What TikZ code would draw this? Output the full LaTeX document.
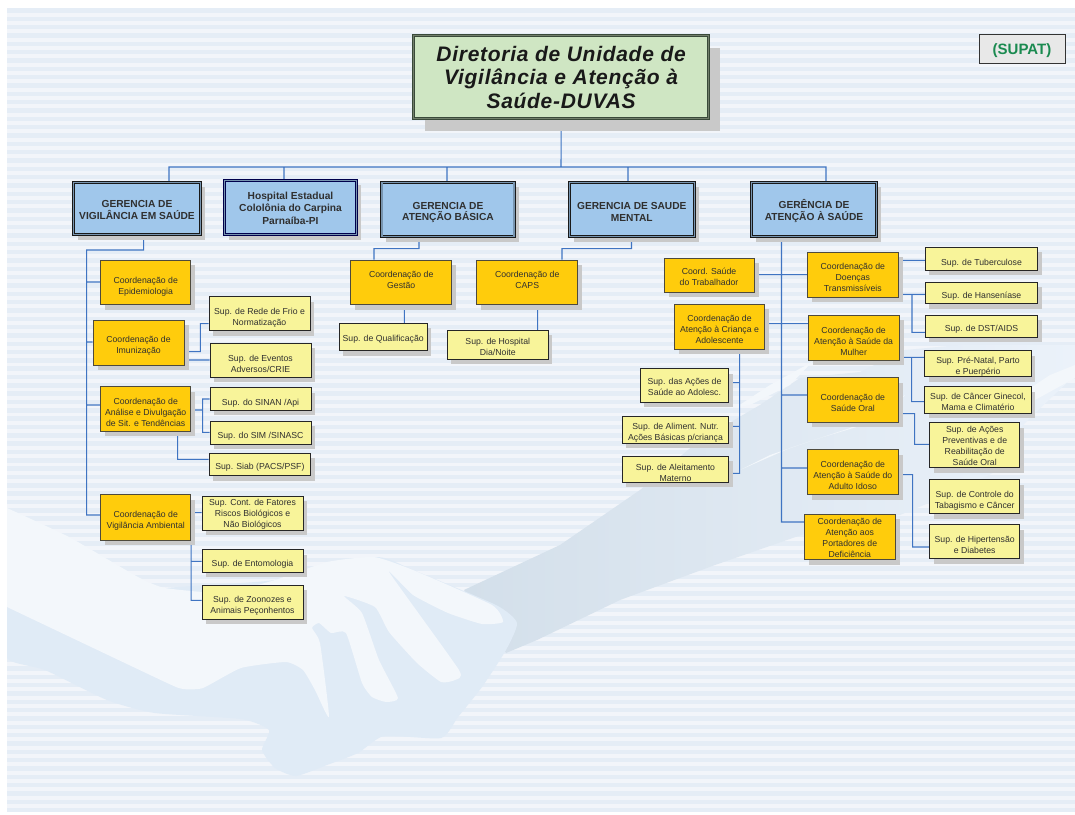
\documentclass[tikz,border=0pt]{standalone}
\usepackage{fontspec}
\setmainfont{Liberation Sans}
\usetikzlibrary{shadows,backgrounds}
\definecolor{bandA}{HTML}{F2F5FA}
\definecolor{bandB}{HTML}{E5EDF6}
\definecolor{handBlue}{HTML}{E0EBF6}
\definecolor{handPale}{HTML}{F3F7FB}
\definecolor{sleeveDark}{HTML}{D3DFEA}
\definecolor{sleeveMid}{HTML}{E2EBF5}
\definecolor{sleeveLight}{HTML}{EBF2FA}
\definecolor{linkBlue}{HTML}{3F74C2}
\definecolor{shadowGrey}{HTML}{C9C9C9}
\definecolor{coordFill}{HTML}{FFCC0C}
\definecolor{supFill}{HTML}{F8F49A}
\definecolor{gerFill}{HTML}{A0C7EB}
\definecolor{dirFill}{HTML}{CFE6C3}
\definecolor{inkDark}{HTML}{303030}
\definecolor{greenInk}{HTML}{1A8A50}
\definecolor{dirEdge}{HTML}{3A4A3A}
\tikzset{
  x=1pt, y=-1pt,
  boxbase/.style={inner sep=0pt, align=center, text=inkDark},
  direcao/.style={boxbase, fill=dirFill, draw=dirEdge, line width=.9pt,
    double=dirFill!55!black, double distance=1.6pt,
    general shadow={fill=shadowGrey, shadow xshift=11pt, shadow yshift=-12pt},
    text=black!90, font=\fontsize{21}{23.6}\selectfont\bfseries\itshape\addfontfeature{LetterSpace=3.4}},
  gerencia/.style={boxbase, fill=gerFill, draw=black!90, line width=.8pt,
    double=gerFill!75!black, double distance=1.3pt,
    general shadow={fill=shadowGrey, shadow xshift=4.5pt, shadow yshift=-5pt},
    font=\fontsize{10.2}{11.6}\selectfont\bfseries},
  hospital/.style={gerencia, draw=black!70!blue, font=\fontsize{10.2}{12.6}\selectfont\bfseries},
  coord/.style={boxbase, fill=coordFill, draw=black!80!yellow, line width=1pt,
    general shadow={fill=shadowGrey, shadow xshift=4.5pt, shadow yshift=-5pt},
    font=\fontsize{8.7}{11}\selectfont},
  sup/.style={boxbase, fill=supFill, draw=black!85, line width=.9pt,
    general shadow={fill=shadowGrey, shadow xshift=4pt, shadow yshift=-5pt},
    font=\fontsize{8.7}{11}\selectfont},
  supat/.style={boxbase, fill=black!9, draw=black!80, line width=.8pt, text=greenInk,
    font=\fontsize{15}{16}\selectfont\bfseries},
  link/.style={draw=linkBlue, line width=1.05pt},
}
% \boxnode[text drop]{style}{name}{left}{top}{right}{bottom}{text}
\newcommand{\boxnode}[8][0]{%
  \pgfmathsetmacro{\bw}{#6-#4}%
  \pgfmathsetmacro{\bh}{#7-#5}%
  \pgfmathsetmacro{\bcx}{(#4+#6)/2}%
  \pgfmathsetmacro{\bcy}{(#5+#7)/2}%
  \pgfmathsetmacro{\bpad}{6.3+2*#1}%
  \node[#2, minimum width=\bw pt, minimum height=\bh pt] (#3) at (\bcx,\bcy) {\rule{0pt}{\bpad pt}#8};%
}
\begin{document}
\begin{tikzpicture}
\useasboundingbox (0,0) rectangle (1075,814);

% head of the chart
\boxnode{direcao}{dir}{413.6}{35.6}{708.6}{118.6}{Diretoria de Unidade de\\Vigilância e Atenção à\\Saúde-DUVAS}
\boxnode[4]{supat}{spt}{979}{34}{1065}{63}{(SUPAT)}

% management boxes
\boxnode[2]{gerencia}{gvs}{73.4}{182.4}{200.6}{234.6}{GERENCIA DE\\VIGILÂNCIA EM SAÚDE}
\boxnode[1]{hospital}{hos}{224.4}{180.4}{356.6}{234.6}{Hospital Estadual\\Cololônia do Carpina\\Parnaíba-PI}
\boxnode[3.5]{gerencia}{gab}{381.9}{182.4}{514.1}{236.6}{GERENCIA DE\\ATENÇÃO BÁSICA}
\boxnode[3]{gerencia}{gsm}{569.4}{182.4}{694.2}{236.6}{GERENCIA DE SAUDE\\MENTAL}
\boxnode[3]{gerencia}{gas}{751.4}{182.4}{876.6}{236.6}{GERÊNCIA DE\\ATENÇÃO À SAÚDE}

% health surveillance branch
\boxnode[4.5]{coord}{cep}{100.7}{260}{190.7}{304.7}{Coordenação de\\Epidemiologia}
\boxnode[3.5]{coord}{cim}{93}{320}{184}{365}{Coordenação de\\Imunização}
\boxnode[4]{coord}{can}{100.7}{386.7}{190.7}{431}{Coordenação de\\Análise e Divulgação\\de Sit. e Tendências}
\boxnode[3.5]{coord}{cva}{100.7}{494.7}{190.7}{540}{Coordenação de\\Vigilância Ambiental}
\boxnode[4.5]{sup}{sfr}{209}{296.7}{310}{330.7}{Sup. de Rede de Frio e\\Normatização}
\boxnode[4]{sup}{sev}{210}{343}{311}{377}{Sup. de Eventos\\Adversos/CRIE}
\boxnode[4]{sup}{ssn}{210}{387.7}{311}{410}{Sup. do SINAN /Api}
\boxnode[4]{sup}{ssm}{210}{421}{311}{444}{Sup. do SIM /SINASC}
\boxnode[3]{sup}{ssb}{209}{453}{310.7}{475.7}{Sup. Siab (PACS/PSF)}
\boxnode[1]{sup}{sct}{202}{496}{303}{530}{Sup. Cont. de Fatores\\Riscos Biológicos e\\Não Biológicos}
\boxnode[3]{sup}{sen}{202}{549.7}{303}{572}{Sup. de Entomologia}
\boxnode[4]{sup}{szo}{202}{585}{303}{619}{Sup. de Zoonozes e\\Animais Peçonhentos}

% basic care and mental health branches
\boxnode{coord}{cge}{350.7}{260}{451.7}{304.7}{Coordenação de\\Gestão\rule[-5pt]{0pt}{0pt}}
\boxnode{coord}{cca}{476.7}{260}{577.7}{304.7}{Coordenação de\\CAPS\rule[-5pt]{0pt}{0pt}}
\boxnode[2]{sup}{squ}{339.3}{323.3}{427}{350.7}{Sup. de Qualificação}
\boxnode[2]{sup}{shd}{447.3}{330.3}{548.3}{359.3}{Sup. de Hospital\\Dia/Noite}

% children and worker health
\boxnode[1.5]{coord}{ctr}{664}{258.3}{754}{292}{Coord. Saúde\\do Trabalhador}
\boxnode[3]{coord}{ccr}{674.3}{304.3}{764.7}{349.3}{Coordenação de\\Atenção à Criança e\\Adolescente}
\boxnode[1]{sup}{sad}{640.3}{368.7}{728.7}{402.3}{Sup. das Ações de\\Saúde ao Adolesc.}
\boxnode[3]{sup}{sal}{622.3}{416.7}{728.7}{443.3}{Sup. de Aliment. Nutr.\\Ações Básicas p/criança}
\boxnode[4]{sup}{slm}{622.3}{456}{728.7}{482.3}{Sup. de Aleitamento\\Materno}

% health care branch
\boxnode[3]{coord}{cdo}{807.3}{252}{898.3}{297.3}{Coordenação de\\Doenças\\Transmissíveis}
\boxnode[4]{coord}{cmu}{808.3}{315.3}{899}{360.3}{Coordenação de\\Atenção à Saúde da\\Mulher}
\boxnode[3]{coord}{cor}{807.3}{377.7}{898.3}{422.3}{Coordenação de\\Saúde Oral}
\boxnode[3]{coord}{cid}{807.3}{449.7}{898.3}{494.7}{Coordenação de\\Atenção à Saúde do\\Adulto Idoso}
\boxnode[1]{coord}{cpo}{804.3}{514.3}{895.3}{559.7}{Coordenação de\\Atenção aos\\Portadores de\\Deficiência}
\boxnode[5]{sup}{stu}{925.3}{247.3}{1037.7}{270}{Sup. de Tuberculose}
\boxnode[3]{sup}{sha}{925.3}{282}{1037.7}{303.7}{Sup. de Hanseníase}
\boxnode[3]{sup}{sds}{925.3}{315}{1037.7}{337.3}{Sup. de DST/AIDS}
\boxnode[3]{sup}{spn}{924.7}{350.7}{1031.3}{376.7}{Sup. Pré-Natal, Parto\\e Puerpério}
\boxnode[2]{sup}{scg}{924.7}{386.7}{1031.3}{413}{Sup. de Câncer Ginecol,\\Mama e Climatério}
\boxnode[1]{sup}{sac}{929.7}{422.7}{1019.7}{467.7}{Sup. de Ações\\Preventivas e de\\Reabilitação de\\Saúde Oral}
\boxnode[4.5]{sup}{stb}{929.7}{479.7}{1019.7}{513.7}{Sup. de Controle do\\Tabagismo e Câncer}
\boxnode[3]{sup}{shi}{929.7}{524.7}{1019.7}{558.7}{Sup. de Hipertensão\\e Diabetes}

\begin{pgfonlayer}{background}
\fill[white] (0,0) rectangle (1075,814);

% striped page ground
\fill[bandA] (7,8) rectangle (1075,812);
\foreach \k in {0,...,96} {
  \pgfmathsetmacro{\ya}{8.3+8.33*\k}
  \pgfmathsetmacro{\yb}{min(\ya+4.4,812)}
  \fill[bandB] (7,\ya) rectangle (1075,\yb);
}

\begin{scope}
\clip (7,8) rectangle (1075,812);
% handshake: sleeve on the right
\path[left color=sleeveDark, middle color=sleeveMid, right color=sleeveLight]
  (464,590) -- (560,545) -- (640,490) -- (700,440) -- (760,405) -- (800,378)
  -- (860,372) -- (905,350) -- (960,345) -- (1075,345) -- (1075,375) -- (1030,418)
  -- (1020,428) -- (1008,465) -- (960,490) -- (900,515) -- (830,525) -- (715,565)
  -- (620,600) -- (537,640) -- (506,653) -- cycle;
% pale folds on the sleeve
\fill[handPale] (735,408) -- (770,385) -- (812,362) -- (790,385) -- (750,405) -- cycle;
\fill[handPale] (740,470) -- (790,448) -- (850,428) -- (905,395) -- (880,420)
  -- (820,438) -- (770,455) -- cycle;
\fill[handPale] (1020,395) -- (1050,375) -- (1075,365) -- (1075,378) -- (1035,400) -- cycle;

% handshake: lower hand
\fill[handBlue] plot[smooth, tension=.35] coordinates {
  (7,607) (7,658) (45,670) (107,700) (155,713) (241,719) (269,730) (262,750)
  (275,768) (296,776) (327,765) (358,753) (384,736) (441,738) (458,717)
  (482,687) (506,650) (517,623) (496,605) (413,570) (374,557) (275,580)
  (165,588) (60,600) (7,607)};

% handshake: upper hand
\fill[handPale] plot[smooth, tension=.3] coordinates {
  (7,508) (69,537) (138,577) (165,588) (224,593) (275,580) (327,562) (374,557)
  (413,570) (492,605) (503,622) (482,624) (448,613) (413,595) (389,572)
  (459,670) (455,680) (441,682) (417,663) (389,632) (375,607) (344,596)
  (362,613) (379,660) (398,698) (386,702) (372,697) (362,683) (346,633)
  (331,633) (319,623) (312,628) (320,643) (329,717) (315,690) (303,670)
  (286,662) (241,668) (203,688) (183,689) (165,682) (7,607)} -- cycle;
\end{scope}

% connectors run beneath the boxes and their shadows
\path[link]
  (dir.south) -- (561,167) -| (gvs.north -| 169,0)
  (dir.south) -- (561,167) -| (hos.north -| 284,0)
  (dir.south) -- (561,167) -| (gab.north -| 447,0)
  (dir.south) -- (561,167) -| (gsm.north -| 628,0)
  (dir.south) -- (561,167) -| (gas.north -| 826,0)
  % surveillance trunk
  (gvs.south -| 143.7,0) -- (143.7,250) -| (86.7,515) -- (cva.west |- 0,515)
  (86.7,282) -- (cep.west |- 0,282)
  (86.7,342) -- (cim.west |- 0,342)
  (86.7,405) -- (can.west |- 0,405)
  (cim.east |- 0,351.7) -| (200.3,323.7) -- (sfr.west |- 0,323.7)
  (cim.east |- 0,360) -- (sev.west |- 0,360)
  (can.east |- 0,410) -| (202.7,399) -- (ssn.west |- 0,399)
  (202.7,410) |- (ssm.west |- 0,432.3)
  (can.south -| 177.7,0) |- (ssb.west |- 0,459.3)
  (cva.east |- 0,512.7) -- (sct.west |- 0,512.7)
  (cva.south east) |- (sen.west |- 0,561.3)
  (cva.south east) |- (szo.west |- 0,600.3)
  % basic care and mental health
  (gab.south -| 419,0) -- (419,248.7) -| (cge.north -| 374,0)
  (gsm.south -| 631.5,0) -- (631.5,248.7) -| (cca.north -| 562,0)
  (cge.south -| 404.3,0) -- (squ.north -| 404.3,0)
  (cca.south -| 537.7,0) -- (shd.north -| 537.7,0)
  % children's care
  (ccr.south -| 739.7,0) |- (slm.east |- 0,473.3)
  (739.7,382.7) -- (sad.east |- 0,382.7)
  (739.7,426.3) -- (sal.east |- 0,426.3)
  % health care trunk
  (gas.south -| 781.5,0) |- (cpo.west |- 0,522)
  (ctr.east |- 0,274.7) -- (cdo.west |- 0,274.7)
  (ccr.east |- 0,323.7) -- (cmu.west |- 0,323.7)
  (781.5,395) -- (cor.west |- 0,395)
  (781.5,468) -- (cid.west |- 0,468)
  % supervisors of the health care branch
  (cdo.east |- 0,260.3) -- (stu.west |- 0,260.3)
  (cdo.east |- 0,294.3) -- (sha.west |- 0,294.3)
  (912,294.3) |- (sds.west |- 0,332.3)
  (cmu.east |- 0,357.3) -- (spn.west |- 0,357.3)
  (911.7,357.3) |- (scg.west |- 0,401.7)
  (cor.east |- 0,413.7) -| (914.7,444.3) -- (sac.west |- 0,444.3)
  (cid.east |- 0,474.7) -| (912.7,547) -- (shi.west |- 0,547);
\end{pgfonlayer}
\end{tikzpicture}
\end{document}
